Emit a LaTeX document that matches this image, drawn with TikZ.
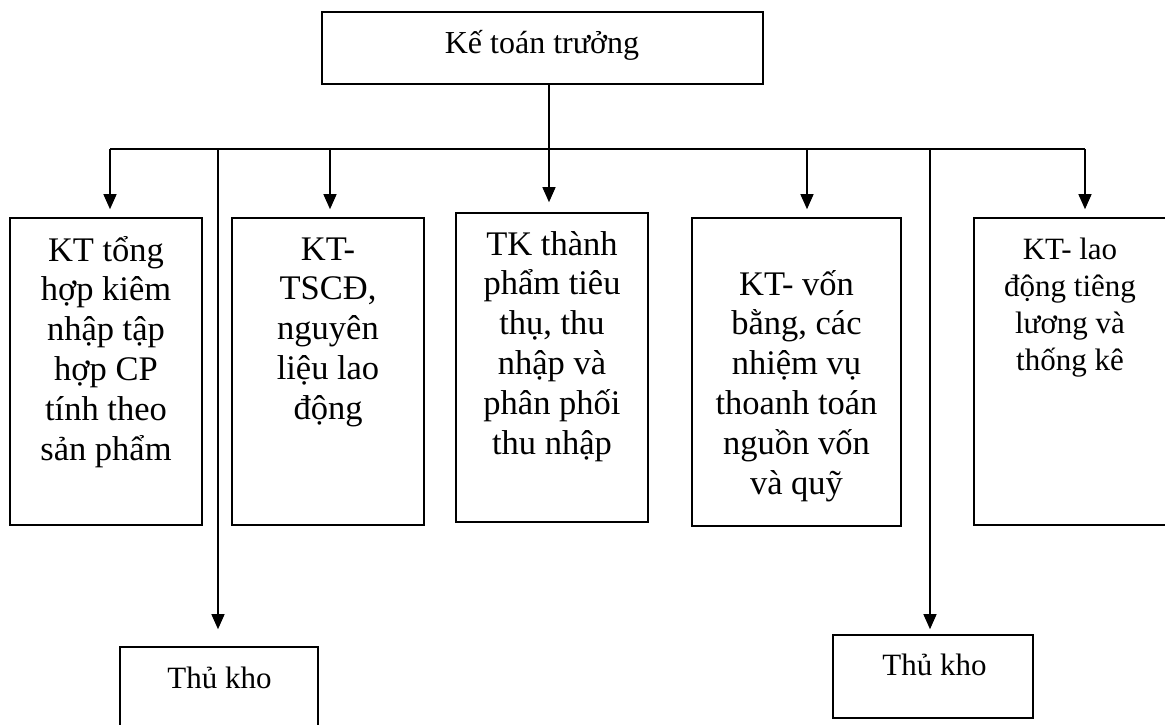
\documentclass[tikz,border=0pt]{standalone}
\usepackage{fontspec}
\setmainfont{Liberation Serif}
\usetikzlibrary{arrows.meta}
\newcommand\stackc[1]{\vtop{\lineskiplimit=-100pt\lineskip=0pt\halign{\hfil##\hfil\cr#1\crcr}}}
\tikzset{
  box/.style={draw, line width=1.6pt, rectangle, inner sep=0pt},
  txt/.style={anchor=base, inner sep=0pt},
  big/.style={font=\fontsize{34.5}{39.8}\selectfont},
  small/.style={font=\fontsize{31}{37}\selectfont},
  conn/.style={line width=1.3pt},
  arr/.style={line width=1.3pt, -{Triangle[length=15pt,width=13pt]}}
}
\begin{document}
\begin{tikzpicture}[x=1pt,y=-1pt]
\useasboundingbox (0,0) rectangle (1165,724);
% boxes
\node[box, minimum width=441pt, minimum height=72pt] (top) at (542.5,48) {};
\node[box, minimum width=192pt, minimum height=307pt] (b1) at (106,371.5) {};
\node[box, minimum width=192pt, minimum height=307pt] (b2) at (328,371.5) {};
\node[box, minimum width=192pt, minimum height=309pt] (b3) at (552,367.5) {};
\node[box, minimum width=209pt, minimum height=308pt] (b4) at (796.5,372) {};
\node[box, minimum width=192pt, minimum height=307pt] (b5) at (1070,371.5) {};
\node[box, minimum width=198pt, minimum height=83pt] (k1) at (219,688.5) {};
\node[box, minimum width=200pt, minimum height=83pt] (k2) at (933,676.5) {};
% texts
\node[txt, font=\fontsize{32}{38}\selectfont] (tt) at (542,53) {Kế toán trưởng};
\node[txt, big] (t1) at (106,261) {\stackc{KT tổng\cr hợp kiêm\cr nhập tập\cr hợp CP\cr tính theo\cr sản phẩm}};
\node[txt, big] (t2) at (328,260) {\stackc{KT-\cr TSCĐ,\cr nguyên\cr liệu lao\cr động}};
\node[txt, big] (t3) at (552,255) {\stackc{TK thành\cr phẩm tiêu\cr thụ, thu\cr nhập và\cr phân phối\cr thu nhập}};
\node[txt, big] (t4) at (796.5,295) {\stackc{KT- vốn\cr bằng, các\cr nhiệm vụ\cr thoanh toán\cr nguồn vốn\cr và quỹ}};
\node[txt, small] (t5) at (1070,259) {\stackc{KT- lao\cr động tiêng\cr lương và\cr thống kê}};
\node[txt, small] (tk1) at (219.5,688) {Thủ kho};
\node[txt, small] (tk2) at (934.5,675) {Thủ kho};
% connectors
\coordinate (tr) at ([xshift=6.5pt]top.south);
\coordinate (hL) at (110,149);
\coordinate (j2) at (218,149);
\coordinate (j3) at (330,149);
\coordinate (j4) at (807,149);
\coordinate (j5) at (930,149);
\coordinate (hR) at (1085,149);
\draw[conn] (hL) -- (hR);
\draw[arr, shorten >=10pt] (tr) -- (tr |- b3.north);
\draw[arr, shorten >=8pt] (hL) -- (hL |- b1.north);
\draw[arr, shorten >=17pt] (j2) -- (j2 |- k1.north);
\draw[arr, shorten >=8pt] (j3) -- (j3 |- b2.north);
\draw[arr, shorten >=8pt] (j4) -- (j4 |- b4.north);
\draw[arr, shorten >=5pt] (j5) -- (j5 |- k2.north);
\draw[arr, shorten >=8pt] (hR) -- (hR |- b5.north);
\end{tikzpicture}
\end{document}
